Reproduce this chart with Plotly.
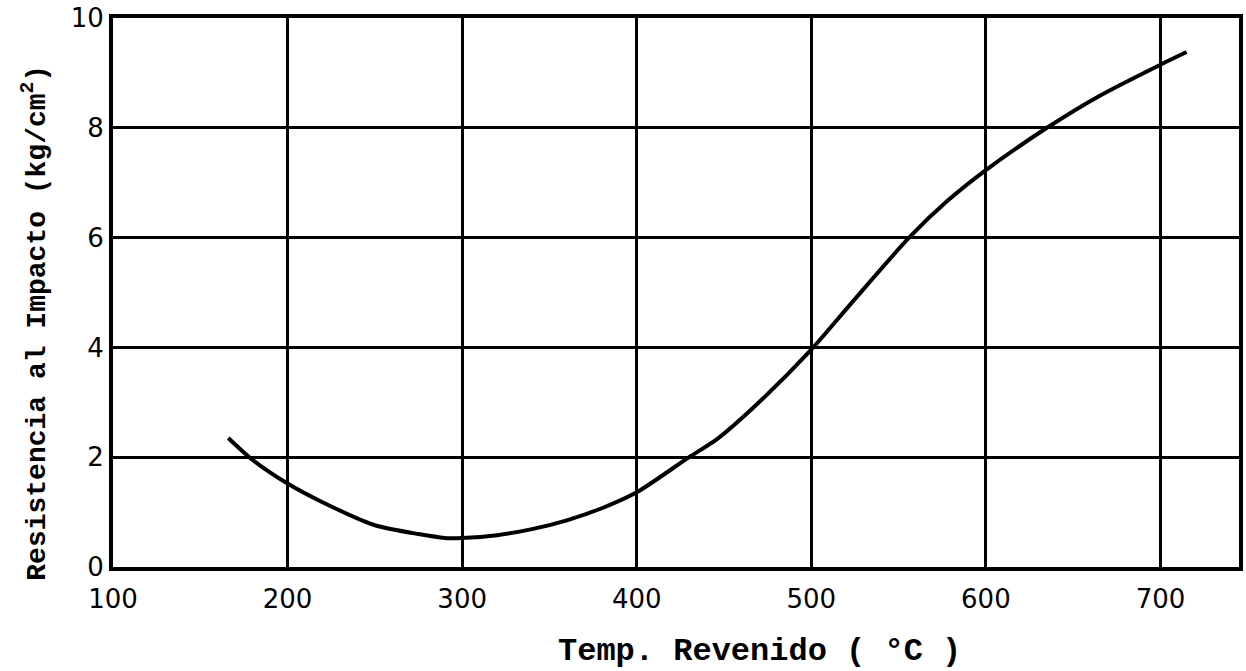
import plotly.graph_objects as go

# Data
temp = [166, 180, 200, 220, 250, 275, 290, 300, 320, 340, 360, 380, 400,
        430, 446, 469, 500, 522, 556, 578, 600, 635, 665, 700, 715]
impact = [2.35, 1.95, 1.52, 1.18, 0.76, 0.6, 0.53, 0.53, 0.58, 0.69, 0.85, 1.07, 1.36,
          2.0, 2.33, 2.97, 3.96, 4.77, 6.0, 6.67, 7.23, 8.0, 8.58, 9.15, 9.38]

x_ticks = [100, 200, 300, 400, 500, 600, 700]
y_ticks = [0, 2, 4, 6, 8, 10]
y_ticktext = ["0", "2", "4", "6", "8", "10"]

x_title = "<b>Temp. Revenido ( °C )</b>"
y_title = "<b>Resistencia al Impacto (kg/cm<sup>2</sup>)</b>"

fig = go.Figure()
fig.add_trace(go.Scatter(
    x=temp, y=impact, mode="lines",
    line=dict(color="black", width=4, shape="spline", smoothing=0.7),
    showlegend=False, hoverinfo="skip"))

tick_font = dict(family="DejaVu Sans", size=26, color="black")
title_font = dict(family="Liberation Mono", size=32, color="black")

fig.update_layout(
    width=1246, height=671,
    margin=dict(l=113, r=3, t=14, b=104),
    paper_bgcolor="white", plot_bgcolor="white",
    xaxis=dict(
        range=[100, 745], tickvals=x_ticks, ticktext=[str(v) for v in x_ticks],
        showgrid=True, gridcolor="black", gridwidth=2.5,
        showline=True, linecolor="black", linewidth=4, mirror=True,
        ticks="outside", ticklen=6, tickcolor="white", tickwidth=1,
        tickfont=tick_font, zeroline=False, ticklabeloverflow="allow",
    ),
    yaxis=dict(
        range=[0, 10], tickvals=y_ticks, ticktext=y_ticktext,
        showgrid=True, gridcolor="black", gridwidth=2.5,
        showline=True, linecolor="black", linewidth=4, mirror=True,
        ticks="", tickfont=tick_font, zeroline=False, ticklabelstandoff=0,
        ticklabeloverflow="allow",
    ),
    annotations=[
        dict(text=x_title, xref="paper", yref="paper", x=0.574, y=0,
             yshift=-84, showarrow=False, font=title_font,
             xanchor="center", yanchor="middle"),
        dict(text=y_title, xref="paper", yref="paper", x=0, y=0.445,
             xshift=-78, showarrow=False, textangle=-90,
             font=dict(family="Liberation Mono", size=28, color="black"),
             xanchor="center", yanchor="middle"),
    ],
)

fig.write_html("out.html")
